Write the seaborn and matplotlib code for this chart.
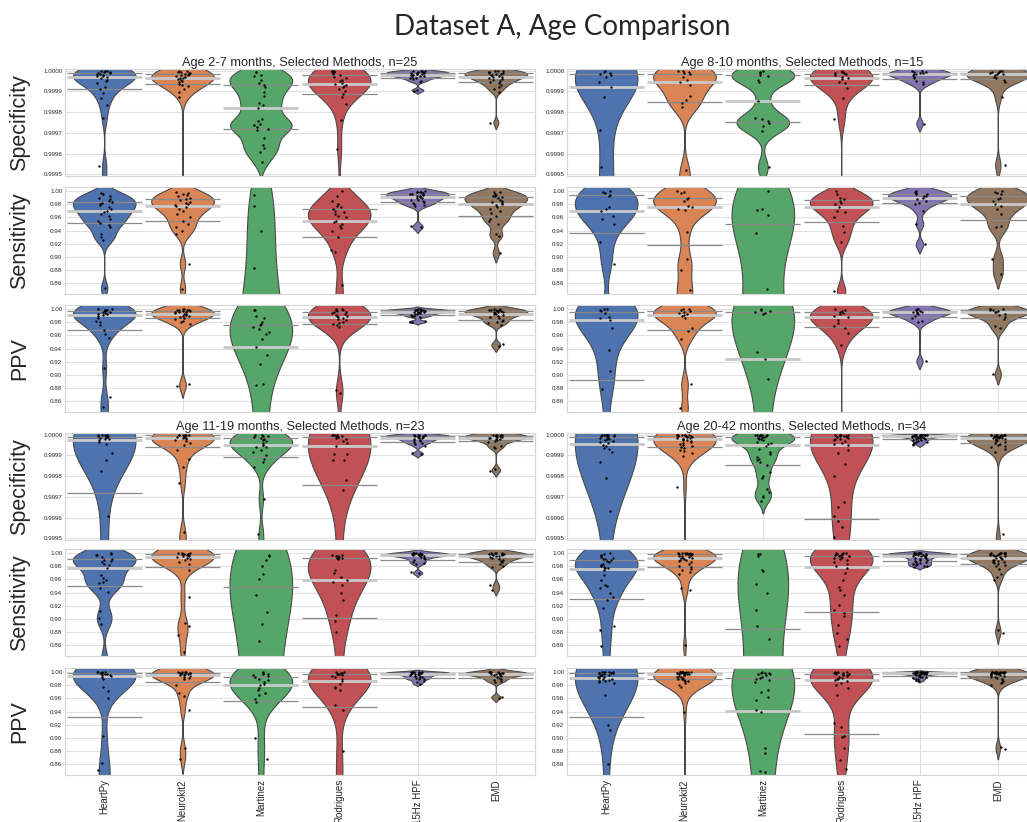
import numpy as np
import pandas as pd
import matplotlib
matplotlib.use("Agg")
import matplotlib.pyplot as plt
from matplotlib.ticker import FormatStrFormatter
import seaborn as sns

methods = ["HeartPy", "Neurokit2", "Martinez", "Rodrigues", "15Hz HPF", "EMD"]
metrics = ["Specificity", "Sensitivity", "PPV"]
titles = ["Age 2-7 months, Selected Methods, n=25", "Age 8-10 months, Selected Methods, n=15",
          "Age 11-19 months, Selected Methods, n=23", "Age 20-42 months, Selected Methods, n=34"]

spec_ticks = [0.9995, 0.9996, 0.9997, 0.9998, 0.9999, 1.0000]
rate_ticks = [0.86, 0.88, 0.90, 0.92, 0.94, 0.96, 0.98, 1.00]

# specificity shortfall below 1.0 in units of 1e-5
spec_2_7 = [
    [0.1, 0.2, 0.3, 0.5, 0.8, 1.0, 1.3, 1.6, 1.8, 2.1, 2.4, 2.6, 2.9, 3.7, 4.5, 5.0, 6.1, 8.1, 9.0, 10.6, 13.4, 16.6, 23, 46, 55],
    [0.2, 0.4, 0.6, 0.8, 1.0, 1.2, 1.5, 1.7, 1.9, 2.2, 2.5, 2.9, 3.3, 3.7, 4.1, 4.6, 5.1, 5.6, 6.2, 6.8, 7.6, 8.8, 10.5, 12.5, 65],
    [0.5, 0.8, 2.1, 2.6, 4.5, 6.1, 6.9, 7.7, 10.2, 12.3, 15.8, 16.5, 17.9, 23.1, 24.2, 25.5, 26.3, 27.4, 27.9, 28.4, 32.7, 35.9, 37.5, 39.1, 43.9],
    [0, 0.2, 0.3, 0.6, 1.0, 1.6, 2.1, 2.9, 3.7, 4.5, 5.2, 5.8, 6.5, 6.9, 7.4, 8.1, 9.0, 10.0, 11.3, 12.6, 16, 24, 38, 60, 85],
    [0, 0.1, 0.2, 0.3, 0.5, 0.7, 0.9, 1.0, 1.2, 1.4, 1.6, 1.8, 1.9, 2.1, 2.3, 2.6, 2.8, 3.0, 3.3, 3.7, 4.2, 4.8, 5.3, 9.2, 9.6],
    [0, 0.2, 0.3, 0.5, 0.7, 0.9, 1.2, 1.4, 1.6, 1.9, 2.2, 2.5, 2.9, 3.2, 3.6, 4.0, 4.4, 4.8, 5.3, 6.0, 6.8, 7.7, 8.7, 10.2, 25],
]
spec_8_10 = [
    [0.2, 0.5, 1.0, 1.5, 2.1, 3.0, 5.3, 7.7, 12.6, 28.7, 46.5, 60, 75, 95, 120],
    [0, 0.2, 0.6, 1.3, 1.5, 2.9, 4.5, 5.6, 7.0, 12.0, 14.2, 15.8, 17.4, 48, 56],
    [0.3, 0.5, 1.3, 2.1, 2.5, 4.5, 5.3, 14.5, 22.9, 23.4, 24.5, 25.3, 26.8, 29.0, 46.5],
    [0, 0.5, 1.0, 1.3, 1.6, 2.1, 3.2, 3.7, 4.2, 5.3, 6.1, 8.2, 13.1, 23.1, 70],
    [0, 0.2, 0.5, 0.8, 1.0, 1.3, 1.6, 1.8, 2.1, 2.9, 3.7, 4.8, 5.6, 6.5, 25.5],
    [0, 0.3, 0.5, 0.8, 1.0, 1.3, 1.6, 1.8, 2.1, 2.9, 3.7, 4.5, 5.3, 12.6, 45.6],
]
spec_11_19 = [
    [0, 0.2, 0.3, 0.3, 0.5, 0.8, 1.0, 1.3, 1.6, 1.9, 2.3, 2.7, 3.5, 4.4, 8.9, 12.1, 17.3, 39, 55, 75, 100, 130, 170],
    [0, 0, 0.1, 0.2, 0.3, 0.3, 0.5, 0.8, 1.0, 1.3, 1.5, 1.8, 2.1, 2.6, 3.2, 4.0, 5.0, 7.3, 11.6, 15.6, 23.4, 47, 52],
    [0, 0.2, 0.5, 0.8, 1.1, 1.6, 2.1, 2.6, 3.2, 4.2, 4.8, 5.2, 5.8, 6.1, 7.4, 8.4, 9.7, 11.6, 13.2, 15.6, 31, 48, 58],
    [0, 0.1, 0.2, 0.3, 0.5, 0.8, 1.1, 1.6, 2.1, 3.2, 4.0, 5.5, 9.2, 9.5, 12.1, 12.4, 21.8, 26.9, 60, 80, 110, 150, 200],
    [0, 0, 0.1, 0.2, 0.3, 0.4, 0.5, 0.6, 0.8, 1.0, 1.2, 1.5, 1.8, 2.1, 2.4, 2.8, 3.2, 3.5, 4.0, 4.5, 5.5, 8.8, 9.4],
    [0, 0, 0.1, 0.2, 0.3, 0.4, 0.5, 0.6, 0.8, 1.0, 1.2, 1.4, 1.6, 1.9, 2.2, 2.6, 3.0, 3.5, 5.4, 5.8, 6.2, 16.8, 17.3],
]
spec_20_42 = [
    [0, 0, 0.1, 0.2, 0.3, 0.4, 0.5, 0.8, 1.0, 1.3, 1.6, 1.9, 2.3, 2.7, 3.2, 3.7, 4.2, 4.8, 5.5, 6.3, 7.0, 8.5, 13.2, 20.8, 36.6,
     70, 85, 100, 120, 140, 160, 190, 230, 270],
    [0, 0, 0, 0.1, 0.2, 0.3, 0.3, 0.5, 0.6, 0.8, 1.0, 1.1, 1.3, 1.5, 1.6, 1.9, 2.1, 2.4, 2.7, 3.1, 3.5, 4.0, 4.5, 5.0, 5.5,
     6.0, 6.5, 7.3, 8.0, 9.0, 10.5, 25.3, 60, 90],
    [0, 0, 0, 0.1, 0.2, 0.3, 0.5, 0.8, 1.0, 1.2, 1.5, 1.9, 2.3, 2.7, 3.5, 4.2, 4.7, 5.6, 6.8, 8.4, 9.5, 10.8, 11.5, 12.1, 13.2,
     14.8, 18.1, 19.7, 21.0, 26.0, 27.7, 29.4, 30.2, 31.8],
    [0, 0, 0.1, 0.2, 0.3, 0.5, 0.8, 0.8, 1.0, 1.3, 1.6, 1.9, 2.3, 2.7, 3.2, 4.0, 4.5, 5.0, 7.6, 9, 14, 20, 32.6, 35, 39,
     41.5, 44.4, 49.5, 60, 75, 90, 110, 130, 160],
    [0, 0, 0, 0, 0.05, 0.1, 0.1, 0.15, 0.2, 0.2, 0.3, 0.3, 0.4, 0.5, 0.6, 0.7, 0.8, 0.9, 1.0, 1.1, 1.2, 1.4, 1.6, 1.8, 2.0,
     2.2, 2.4, 2.7, 3.0, 3.3, 3.6, 4.0, 4.5, 5.0],
    [0, 0, 0, 0.1, 0.2, 0.3, 0.3, 0.4, 0.5, 0.6, 0.7, 0.8, 0.9, 1.0, 1.1, 1.2, 1.4, 1.6, 1.8, 2.0, 2.2, 2.5, 2.8, 3.1, 3.5,
     3.9, 4.4, 5.0, 5.5, 6.0, 7.0, 8.5, 48, 52],
]

sens_2_7 = [
    [0.997, 0.995, 0.993, 0.99, 0.988, 0.985, 0.983, 0.982, 0.98, 0.978, 0.975, 0.972, 0.97, 0.968, 0.965, 0.962, 0.958, 0.955, 0.952, 0.948, 0.945, 0.935, 0.93, 0.925, 0.853],
    [0.999, 0.997, 0.995, 0.994, 0.992, 0.99, 0.988, 0.986, 0.984, 0.982, 0.98, 0.978, 0.977, 0.975, 0.972, 0.969, 0.965, 0.96, 0.955, 0.95, 0.945, 0.94, 0.935, 0.89, 0.852],
    [0.994, 0.977, 0.939, 0.884, 0.84, 0.82, 0.8, 0.77, 0.74, 0.72, 0.7, 0.68, 0.67, 0.66, 0.64, 0.62, 0.6, 0.58, 0.55, 0.52, 0.48, 0.44, 0.39, 0.33, 0.27],
    [1.0, 0.993, 0.985, 0.98, 0.9775, 0.975, 0.9725, 0.97, 0.9675, 0.965, 0.9625, 0.96, 0.955, 0.9525, 0.95, 0.9475, 0.944, 0.94, 0.93, 0.91, 0.9075, 0.8575, 0.83, 0.8, 0.76],
    [1.0, 0.999, 0.999, 0.998, 0.998, 0.997, 0.996, 0.995, 0.995, 0.994, 0.993, 0.992, 0.991, 0.99, 0.989, 0.987, 0.986, 0.985, 0.984, 0.982, 0.98, 0.979, 0.977, 0.947, 0.945],
    [0.999, 0.998, 0.996, 0.994, 0.993, 0.992, 0.991, 0.989, 0.987, 0.985, 0.983, 0.982, 0.98, 0.978, 0.976, 0.973, 0.97, 0.966, 0.962, 0.958, 0.955, 0.95, 0.935, 0.932, 0.906],
]
sens_8_10 = [
    [1.0, 0.999, 0.9975, 0.994, 0.9925, 0.975, 0.9725, 0.97, 0.9625, 0.9575, 0.95, 0.9225, 0.89, 0.82, 0.78],
    [1.0, 0.999, 0.9975, 0.99, 0.9875, 0.985, 0.9775, 0.975, 0.9725, 0.971, 0.9375, 0.8975, 0.88, 0.85, 0.84],
    [1.0, 0.972, 0.971, 0.963, 0.937, 0.851, 0.82, 0.78, 0.74, 0.7, 0.66, 0.62, 0.57, 0.5, 0.4],
    [1.0, 0.995, 0.99, 0.9875, 0.985, 0.9825, 0.98, 0.975, 0.97, 0.9675, 0.96, 0.9475, 0.9375, 0.9225, 0.848],
    [1.0, 0.999, 0.9975, 0.996, 0.995, 0.9925, 0.992, 0.99, 0.9875, 0.985, 0.9825, 0.98, 0.97, 0.95, 0.919],
    [1.0, 0.999, 0.9975, 0.995, 0.99, 0.9875, 0.985, 0.98, 0.9775, 0.9725, 0.965, 0.9475, 0.945, 0.8975, 0.875],
]
sens_11_19 = [
    [1.0, 0.999, 0.9975, 0.9965, 0.994, 0.9915, 0.989, 0.9875, 0.9865, 0.984, 0.9815, 0.9775, 0.9665, 0.9615, 0.959, 0.9565, 0.954, 0.9465, 0.9415, 0.9115, 0.9015, 0.8925, 0.84],
    [1.0, 1.0, 0.9995, 0.999, 0.999, 0.998, 0.998, 0.9975, 0.997, 0.996, 0.995, 0.994, 0.992, 0.9915, 0.989, 0.9865, 0.984, 0.974, 0.934, 0.894, 0.889, 0.8765, 0.85],
    [0.997, 0.995, 0.99, 0.98, 0.968, 0.961, 0.936, 0.91, 0.892, 0.867, 0.83, 0.8, 0.77, 0.74, 0.71, 0.68, 0.64, 0.6, 0.56, 0.51, 0.45, 0.38, 0.3],
    [0.9975, 0.997, 0.996, 0.995, 0.994, 0.993, 0.992, 0.9905, 0.974, 0.969, 0.964, 0.959, 0.9565, 0.9515, 0.939, 0.929, 0.9065, 0.8975, 0.88, 0.83, 0.78, 0.72, 0.65],
    [1.0, 1.0, 1.0, 0.9995, 0.999, 0.999, 0.9985, 0.998, 0.998, 0.9975, 0.997, 0.9965, 0.996, 0.995, 0.994, 0.993, 0.991, 0.989, 0.987, 0.985, 0.983, 0.971, 0.969],
    [1.0, 1.0, 1.0, 0.9995, 0.999, 0.999, 0.9985, 0.998, 0.9975, 0.997, 0.996, 0.995, 0.994, 0.993, 0.9915, 0.99, 0.988, 0.986, 0.984, 0.981, 0.978, 0.952, 0.9445],
]
sens_20_42 = [
    [1.0, 0.999, 0.9975, 0.9955, 0.994, 0.9925, 0.9915, 0.9905, 0.989, 0.9875, 0.9865, 0.984, 0.9815, 0.9805, 0.979, 0.9775, 0.9765,
     0.974, 0.9665, 0.959, 0.9515, 0.95, 0.9465, 0.939, 0.933, 0.929, 0.9165, 0.89, 0.883, 0.859, 0.83, 0.8, 0.76, 0.7],
    [1.0, 1.0, 1.0, 1.0, 0.9995, 0.999, 0.999, 0.9985, 0.998, 0.998, 0.9975, 0.997, 0.996, 0.995, 0.994, 0.993, 0.9925,
     0.992, 0.991, 0.99, 0.989, 0.988, 0.986, 0.984, 0.981, 0.978, 0.976, 0.974, 0.971, 0.9675, 0.9465, 0.944, 0.86, 0.82],
    [0.999, 0.998, 0.996, 0.974, 0.972, 0.953, 0.939, 0.913, 0.89, 0.869, 0.82, 0.8, 0.78, 0.76, 0.74, 0.72, 0.7,
     0.69, 0.68, 0.67, 0.66, 0.65, 0.63, 0.61, 0.59, 0.57, 0.55, 0.52, 0.49, 0.45, 0.41, 0.37, 0.32, 0.27],
    [1.0, 1.0, 0.9995, 0.999, 0.998, 0.9975, 0.997, 0.996, 0.995, 0.994, 0.993, 0.992, 0.9905, 0.989, 0.987, 0.984, 0.981,
     0.977, 0.969, 0.959, 0.949, 0.944, 0.9365, 0.9215, 0.914, 0.909, 0.904, 0.8915, 0.879, 0.869, 0.859, 0.82, 0.76, 0.68],
    [1.0, 1.0, 1.0, 1.0, 1.0, 0.9995, 0.9995, 0.999, 0.999, 0.9985, 0.998, 0.998, 0.9975, 0.997, 0.9965, 0.996, 0.9955,
     0.995, 0.994, 0.993, 0.992, 0.991, 0.99, 0.989, 0.988, 0.987, 0.986, 0.985, 0.984, 0.983, 0.982, 0.981, 0.98, 0.979],
    [1.0, 1.0, 1.0, 1.0, 0.9995, 0.9995, 0.999, 0.999, 0.9985, 0.998, 0.9975, 0.997, 0.9965, 0.996, 0.995, 0.994, 0.993,
     0.992, 0.991, 0.99, 0.989, 0.988, 0.987, 0.986, 0.985, 0.9835, 0.9815, 0.98, 0.976, 0.968, 0.964, 0.959, 0.884, 0.879],
]

ppv_2_7 = [
    [1.0, 1.0, 0.999, 0.999, 0.998, 0.998, 0.997, 0.996, 0.995, 0.994, 0.993, 0.992, 0.991, 0.989, 0.986, 0.982, 0.98, 0.975, 0.968, 0.962, 0.956, 0.911, 0.866, 0.851, 0.83],
    [1.0, 1.0, 0.999, 0.999, 0.998, 0.998, 0.997, 0.997, 0.996, 0.995, 0.995, 0.994, 0.993, 0.992, 0.991, 0.99, 0.989, 0.988, 0.986, 0.985, 0.982, 0.98, 0.977, 0.886, 0.884],
    [0.999, 0.998, 0.99, 0.986, 0.98, 0.977, 0.975, 0.972, 0.97, 0.965, 0.962, 0.955, 0.942, 0.93, 0.916, 0.886, 0.885, 0.83, 0.8, 0.77, 0.74, 0.7, 0.65, 0.6, 0.5],
    [1.0, 1.0, 0.999, 0.998, 0.997, 0.996, 0.995, 0.994, 0.993, 0.991, 0.99, 0.989, 0.988, 0.987, 0.985, 0.983, 0.981, 0.979, 0.977, 0.975, 0.972, 0.878, 0.873, 0.82, 0.78],
    [1.0, 1.0, 0.999, 0.999, 0.999, 0.998, 0.998, 0.998, 0.997, 0.997, 0.996, 0.996, 0.995, 0.995, 0.994, 0.994, 0.993, 0.992, 0.991, 0.99, 0.989, 0.988, 0.982, 0.981, 0.98],
    [1.0, 1.0, 0.999, 0.999, 0.998, 0.998, 0.997, 0.997, 0.996, 0.995, 0.995, 0.994, 0.993, 0.992, 0.991, 0.99, 0.988, 0.986, 0.984, 0.982, 0.98, 0.978, 0.976, 0.947, 0.944],
]
ppv_8_10 = [
    [1.0, 1.0, 0.999, 0.9975, 0.9945, 0.9885, 0.986, 0.983, 0.971, 0.9385, 0.906, 0.8795, 0.8, 0.75, 0.7],
    [1.0, 1.0, 0.999, 0.9975, 0.996, 0.9945, 0.9925, 0.991, 0.9895, 0.986, 0.971, 0.966, 0.955, 0.886, 0.85],
    [1.0, 0.998, 0.9975, 0.996, 0.9945, 0.9925, 0.935, 0.9235, 0.8935, 0.8, 0.75, 0.7, 0.65, 0.6, 0.5],
    [1.0, 0.9985, 0.9975, 0.996, 0.9935, 0.9925, 0.9895, 0.9875, 0.9835, 0.9785, 0.9745, 0.971, 0.9635, 0.946, 0.8],
    [1.0, 1.0, 0.999, 0.998, 0.997, 0.996, 0.9955, 0.995, 0.994, 0.992, 0.99, 0.987, 0.982, 0.981, 0.921],
    [1.0, 1.0, 0.9995, 0.999, 0.998, 0.997, 0.996, 0.995, 0.993, 0.9905, 0.988, 0.985, 0.9735, 0.971, 0.901],
]
ppv_11_19 = [
    [1.0, 1.0, 1.0, 0.9995, 0.999, 0.999, 0.998, 0.9975, 0.997, 0.996, 0.995, 0.994, 0.993, 0.99, 0.9775, 0.9715, 0.96, 0.9025, 0.8615, 0.8515, 0.83, 0.8, 0.77],
    [1.0, 1.0, 1.0, 0.9995, 0.999, 0.999, 0.9985, 0.998, 0.9975, 0.997, 0.9965, 0.996, 0.995, 0.994, 0.993, 0.991, 0.989, 0.98, 0.9675, 0.9635, 0.9425, 0.885, 0.8675],
    [1.0, 0.9985, 0.9975, 0.9965, 0.995, 0.9935, 0.992, 0.99, 0.9875, 0.985, 0.9825, 0.98, 0.975, 0.9725, 0.9675, 0.965, 0.9585, 0.955, 0.9, 0.8675, 0.82, 0.78, 0.72],
    [1.0, 0.9995, 0.999, 0.998, 0.9975, 0.997, 0.9965, 0.996, 0.9945, 0.992, 0.9895, 0.9865, 0.9825, 0.9775, 0.975, 0.9725, 0.95, 0.9425, 0.88, 0.84, 0.8, 0.75, 0.7],
    [1.0, 1.0, 1.0, 1.0, 0.9995, 0.999, 0.999, 0.9985, 0.998, 0.9975, 0.997, 0.9965, 0.996, 0.995, 0.994, 0.993, 0.992, 0.991, 0.99, 0.989, 0.987, 0.9845, 0.982],
    [1.0, 1.0, 1.0, 1.0, 0.9995, 0.999, 0.999, 0.9985, 0.998, 0.9975, 0.997, 0.9965, 0.996, 0.995, 0.994, 0.993, 0.9915, 0.99, 0.9875, 0.986, 0.985, 0.9625, 0.961],
]
ppv_20_42 = [
    [1.0, 1.0, 1.0, 0.9995, 0.9995, 0.999, 0.999, 0.998, 0.998, 0.997, 0.996, 0.9955, 0.995, 0.994, 0.993, 0.992, 0.991,
     0.99, 0.989, 0.988, 0.987, 0.986, 0.985, 0.983, 0.965, 0.92, 0.9125, 0.86, 0.8, 0.74, 0.68, 0.6, 0.5, 0.4],
    [1.0, 1.0, 1.0, 1.0, 1.0, 0.9995, 0.9995, 0.9995, 0.999, 0.999, 0.999, 0.9985, 0.9985, 0.998, 0.998, 0.9975, 0.997,
     0.9965, 0.996, 0.995, 0.994, 0.993, 0.992, 0.991, 0.99, 0.989, 0.988, 0.987, 0.986, 0.984, 0.981, 0.9775, 0.94, 0.7],
    [1.0, 0.999, 0.9985, 0.998, 0.9975, 0.9965, 0.995, 0.993, 0.991, 0.99, 0.988, 0.9855, 0.973, 0.97, 0.9625, 0.9575, 0.9425,
     0.94, 0.885, 0.8775, 0.85, 0.848, 0.82, 0.79, 0.76, 0.72, 0.68, 0.65, 0.63, 0.58, 0.55, 0.52, 0.45, 0.38],
    [1.0, 1.0, 0.9995, 0.999, 0.9985, 0.998, 0.9975, 0.997, 0.9965, 0.996, 0.995, 0.994, 0.993, 0.992, 0.991, 0.99, 0.989,
     0.988, 0.986, 0.984, 0.98, 0.975, 0.965, 0.9225, 0.9165, 0.9025, 0.901, 0.885, 0.8665, 0.8525, 0.82, 0.78, 0.72, 0.65],
    [1.0, 1.0, 1.0, 1.0, 1.0, 1.0, 0.9995, 0.9995, 0.9995, 0.999, 0.999, 0.999, 0.9985, 0.9985, 0.9985, 0.9985, 0.998,
     0.998, 0.9975, 0.9975, 0.997, 0.9965, 0.996, 0.9955, 0.995, 0.994, 0.993, 0.9925, 0.992, 0.991, 0.99, 0.989, 0.9875, 0.9865],
    [1.0, 1.0, 1.0, 1.0, 1.0, 0.9995, 0.9995, 0.9995, 0.9995, 0.999, 0.999, 0.999, 0.9985, 0.9985, 0.998, 0.998, 0.9975,
     0.9975, 0.997, 0.9965, 0.996, 0.995, 0.994, 0.993, 0.992, 0.991, 0.99, 0.989, 0.987, 0.985, 0.983, 0.98, 0.886, 0.884],
]

spec_groups = [spec_2_7, spec_8_10, spec_11_19, spec_20_42]
sens_groups = [sens_2_7, sens_8_10, sens_11_19, sens_20_42]
ppv_groups = [ppv_2_7, ppv_8_10, ppv_11_19, ppv_20_42]

sns.set_theme(style="whitegrid")
plt.rcParams['font.family'] = ['Liberation Sans', 'DejaVu Sans']

fig = plt.figure(figsize=(10.27, 8.22), dpi=100)
W, H = 1027.0, 822.0
col_left = [65, 567]
col_width = 470
row_tops = [69, 187, 305, 433, 549, 668]
row_height = 107


def draw_panel(ax, groups, is_spec, bottom):
    if is_spec:
        groups = [list(1 - np.array(g) * 1e-5) for g in groups]
    df = pd.DataFrame({
        "method": np.repeat(methods, [len(g) for g in groups]),
        "value": np.concatenate(groups),
    })
    sns.violinplot(data=df, x="method", y="value", hue="method", order=methods, hue_order=methods,
                   palette="deep", saturation=0.95, density_norm="width", inner=None, cut=2, bw_method=0.3,
                   linewidth=0.8, linecolor="#4a4a4a", legend=False, ax=ax)
    for i, g in enumerate(groups):
        q1, med, q3 = np.percentile(g, [25, 50, 75])
        ax.hlines([q1, q3], i - 0.48, i + 0.48, color="#8a8a8a", lw=0.9, zorder=3)
        ax.hlines(med, i - 0.48, i + 0.48, color="#c9c9c9", lw=2.0, zorder=3)
    sns.stripplot(data=df, x="method", y="value", order=methods, color="black", size=1.7,
                  jitter=0.1, ax=ax, zorder=4)
    ax.set_xlim(-0.5, 5.5)
    if is_spec:
        ax.set_ylim(0.999492, 1.000008)
        ax.set_yticks(spec_ticks)
        ax.yaxis.set_major_formatter(FormatStrFormatter("%.4f"))
    else:
        ax.set_ylim(0.844, 1.006)
        ax.set_yticks(rate_ticks)
        ax.yaxis.set_major_formatter(FormatStrFormatter("%.2f"))
    ax.tick_params(axis="y", labelsize=4.5, pad=2, length=0)
    ax.set_xlabel("")
    ax.set_ylabel("")
    if bottom:
        ax.tick_params(axis="x", labelrotation=90, labelsize=7, pad=3, length=0)
    else:
        ax.set_xticklabels([])
        ax.tick_params(axis="x", length=0)
    for s in ax.spines.values():
        s.set_color("#d5d5d5")
        s.set_linewidth(0.8)
    ax.grid(color="#e0e0e0", lw=0.8)


np.random.seed(3)
for block in range(2):
    for col in range(2):
        g = block * 2 + col
        for m, (metric, groups) in enumerate(zip(metrics, [spec_groups, sens_groups, ppv_groups])):
            r = block * 3 + m
            top = row_tops[r]
            ax = fig.add_axes([col_left[col] / W, 1 - (top + row_height) / H, col_width / W, row_height / H])
            draw_panel(ax, groups[g], m == 0, r == 5)
            if m == 0:
                ax.set_title(titles[g], fontsize=9.2, pad=2)
            if col == 0:
                fig.text(20 / W, 1 - (top + row_height / 2) / H, metric, rotation=90,
                         ha="center", va="center", fontsize=15.5)

fig.text(0.547, 0.967, "Dataset A, Age Comparison", fontsize=20, ha="center", va="center",
         family=["Lato", "DejaVu Sans"])

fig.savefig("out.png", dpi=100)
